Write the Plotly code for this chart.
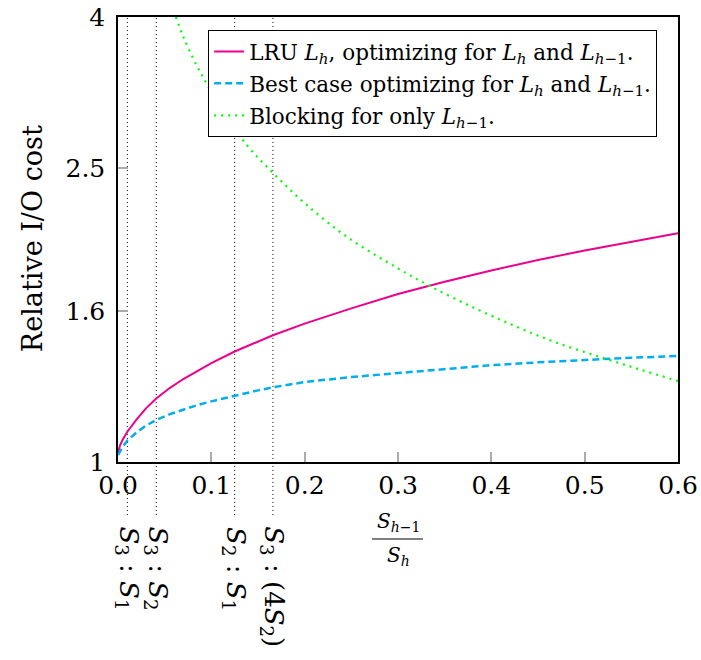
import plotly.graph_objects as go

# ---- data ----
lru_x = [0, 0.002, 0.005, 0.01, 0.02, 0.03, 0.041, 0.055, 0.07, 0.085, 0.1, 0.125, 0.15, 0.166, 0.2, 0.25, 0.3, 0.35, 0.4, 0.45, 0.5, 0.55, 0.6]
lru_y = [1.027, 1.052, 1.072, 1.099, 1.142, 1.182, 1.219, 1.258, 1.295, 1.329, 1.361, 1.411, 1.457, 1.484, 1.539, 1.614, 1.688, 1.7535, 1.816, 1.876, 1.933, 1.988, 2.04]

best_x = [0, 0.002, 0.005, 0.01, 0.02, 0.03, 0.041, 0.055, 0.07, 0.085, 0.1, 0.125, 0.15, 0.166, 0.2, 0.25, 0.3, 0.35, 0.4, 0.45, 0.5, 0.55, 0.6]
best_y = [1.022, 1.033, 1.048, 1.069, 1.097, 1.12, 1.14, 1.16, 1.178, 1.194, 1.208, 1.23, 1.25, 1.262, 1.283, 1.303, 1.32, 1.337, 1.352, 1.364, 1.375, 1.384, 1.391]

block_x = [0.062, 0.07, 0.0843, 0.095, 0.11, 0.138, 0.1665, 0.2, 0.245, 0.3, 0.334, 0.38, 0.427, 0.47, 0.518, 0.56, 0.6]
block_y = [4.0, 3.76, 3.44, 3.25, 3.01, 2.684, 2.458, 2.24, 2.018, 1.828, 1.730, 1.62, 1.524, 1.45, 1.385, 1.333, 1.287]

ratio_x = [0.01, 0.041, 0.125, 0.166]
ratio_labels = [
    "<i>S</i><sub>3</sub> : <i>S</i><sub>1</sub>",
    "<i>S</i><sub>3</sub> : <i>S</i><sub>2</sub>",
    "<i>S</i><sub>2</sub> : <i>S</i><sub>1</sub>",
    "<i>S</i><sub>3</sub> : (4<i>S</i><sub>2</sub>)",
]

x_ticks = [0, 0.1, 0.2, 0.3, 0.4, 0.5, 0.6]
y_ticks = [1, 1.6, 2.5, 4]
y_ticktext = ["1", "1.6", "2.5", "4"]

names = [
    "LRU <i>L<sub>h</sub></i>, optimizing for <i>L<sub>h</sub></i> and <i>L</i><sub><i>h</i>−1</sub>.",
    "Best case optimizing for <i>L<sub>h</sub></i> and <i>L</i><sub><i>h</i>−1</sub>.",
    "Blocking for only <i>L</i><sub><i>h</i>−1</sub>.",
]

X_MIN, X_MAX = 0, 0.6
FONT = "DejaVu Serif"

fig = go.Figure()
fig.add_trace(go.Scatter(x=lru_x, y=lru_y, mode="lines", name=names[0], legendgroup="a",
                         line=dict(color="#EC008C", width=2)))
fig.add_trace(go.Scatter(x=best_x, y=best_y, mode="lines", name=names[1], legendgroup="b",
                         line=dict(color="#00AEEF", width=2.5, dash="7px,4px")))
fig.add_trace(go.Scatter(x=block_x, y=block_y, mode="lines", name=names[2], legendgroup="c",
                         line=dict(color="#00FF00", width=2.2, dash="2px,5px", shape="spline")))

shapes = []
annotations = []
for xv, lab in zip(ratio_x, ratio_labels):
    xp = (xv - X_MIN) / (X_MAX - X_MIN)
    shapes.append(dict(type="line", xref="x domain", yref="paper", x0=xp, x1=xp,
                       y0=-0.119, y1=1, line=dict(color="black", width=1, dash="1px,3px"),
                       layer="below"))
    annotations.append(dict(text=lab, xref="x domain", yref="paper", x=xp, y=-0.141,
                            xanchor="center", yanchor="top", textangle=90, showarrow=False,
                            font=dict(family=FONT, size=26, color="black")))

# fraction x-axis title
shapes.append(dict(type="line", xref="paper", yref="paper", x0=0.4536, x1=0.5446,
                   y0=-0.173, y1=-0.173, line=dict(color="black", width=1)))
annotations.append(dict(text="<i>S</i><sub><i>h</i>−1</sub>", xref="paper", yref="paper",
                        x=0.5, y=-0.168, xanchor="center", yanchor="bottom", showarrow=False,
                        font=dict(family=FONT, size=20, color="black")))
annotations.append(dict(text="<i>S<sub>h</sub></i>", xref="paper", yref="paper",
                        x=0.5, y=-0.178, xanchor="center", yanchor="top", showarrow=False,
                        font=dict(family=FONT, size=20, color="black")))
# y-axis title
annotations.append(dict(text="Relative I/O cost", xref="paper", yref="paper",
                        x=-0.1536, y=0.503, xanchor="center", yanchor="middle", textangle=-90,
                        showarrow=False, font=dict(family=FONT, size=27, color="black")))

fig.update_layout(
    width=701, height=660,
    margin=dict(l=118, r=23, t=17, b=198, autoexpand=False),
    plot_bgcolor="white", paper_bgcolor="white",
    font=dict(family=FONT, color="black"),
    showlegend=True,
    legend=dict(x=0.161, y=0.971, xanchor="left", yanchor="top",
                bordercolor="black", borderwidth=1, bgcolor="white",
                font=dict(family=FONT, size=21.5, color="black"),
                traceorder="grouped", tracegroupgap=1),
    shapes=shapes,
    annotations=annotations,
)
fig.update_xaxes(range=[X_MIN, X_MAX], tickvals=x_ticks, tickformat=".1f", automargin=False,
                 ticks="inside", ticklen=10, tickcolor="#aaaaaa", tickwidth=2,
                 showline=True, linecolor="black", linewidth=1.5, mirror=True,
                 showgrid=False, zeroline=False,
                 tickfont=dict(family=FONT, size=25, color="black"))
fig.update_yaxes(type="log", range=[0, 0.60206], tickvals=y_ticks, ticktext=y_ticktext,
                 automargin=False,
                 ticks="inside", ticklen=10, tickcolor="#aaaaaa", tickwidth=2,
                 showline=True, linecolor="black", linewidth=1.5, mirror=True,
                 showgrid=False, zeroline=False, ticklabelstandoff=6,
                 tickfont=dict(family=FONT, size=25, color="black"))

fig.write_html("out.html")
